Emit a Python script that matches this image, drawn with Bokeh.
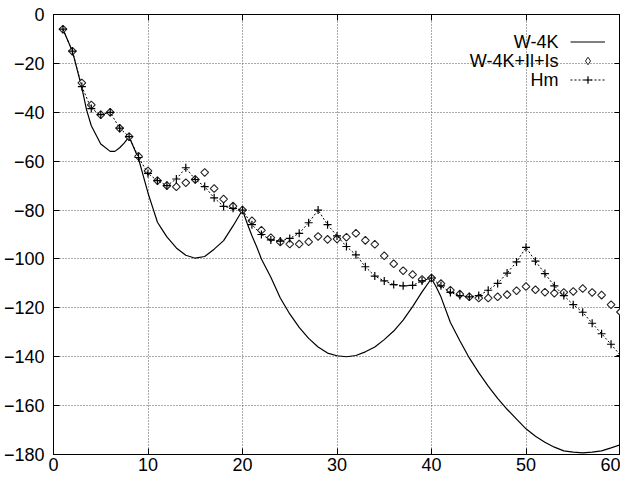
from bokeh.plotting import figure
from bokeh.models import (LinearAxis, Range1d, FixedTicker, Legend, LegendItem, Label,
                          CustomJSTickFormatter)
from bokeh.embed import file_html
from bokeh.resources import INLINE
from bokeh.core.properties import value
import math

# ---------------- data ----------------
W4K_X = [1, 2, 3, 3.5, 4, 5, 6, 6.5, 7, 7.5, 8, 8.5, 9, 9.5, 10, 10.5, 11, 11.5, 12, 13, 14, 15,
         16, 17, 18, 19, 20, 20.5, 21, 21.5, 22, 23, 24, 25, 26, 27, 28, 29, 30, 31, 32, 33,
         34, 35, 36, 37, 38, 39, 40, 40.5, 41, 42, 43, 44, 45, 46, 47, 48, 49, 50, 51, 52,
         53, 54, 55, 56, 57, 58, 59, 60]
W4K_Y = [-6, -15, -30, -39, -45.5, -53, -56, -56, -54.5, -52.5, -50, -54.5, -59, -66, -73, -79,
         -85, -88, -91, -95.5, -98.5, -99.7, -99, -96, -92.5, -86.5, -80, -85.5, -90.5, -95,
         -100, -107.5, -116, -122.5, -128, -132.5, -136, -138.5, -139.6, -140, -139.5, -138,
         -136, -133, -129.5, -125, -119.5, -113.5, -108, -111.5, -115.5, -126, -133.5, -140.5,
         -146.5, -152, -157, -161.5, -165.5, -169.5, -172.5, -175, -177, -178.5, -179, -179.3,
         -179, -178.5, -177.3, -176]

N_X = list(range(1, 61))
IL_Y = [-6, -15, -28, -37, -41, -40, -46.5, -50, -58, -64,
        -68, -70, -70.5, -68.8, -67.5, -64.6, -71.2, -75.5, -78.4, -80,
        -84.4, -88.3, -91.3, -93.1, -93.9, -93.9, -93, -90.8, -92, -91.8,
        -91.1, -89.5, -92.4, -94, -98.7, -102, -104.8, -106.4, -108.4, -107.8,
        -110.1, -112.8, -114.4, -115.5, -116, -116, -115.5, -114.6, -113, -111.3,
        -112.6, -113.6, -114, -113.7, -113.3, -112.1, -113.7, -114.8, -118.7, -121.7]
HM_Y = [-6, -15, -29.5, -38.5, -41, -40, -46.5, -50, -58.5, -65,
        -68, -70, -67.3, -62.7, -67.5, -70.4, -75, -78.5, -79.3, -80,
        -86, -90, -92.2, -92.7, -91.6, -89.5, -85.2, -80, -86, -90.6,
        -94.9, -98.3, -103.2, -107, -109, -110.5, -111, -110.8, -109, -107.8,
        -111, -113.7, -115, -115.5, -115, -112.8, -110, -105.8, -101.2, -95.3,
        -100.9, -106, -111, -115, -118.7, -121.8, -126.3, -130.6, -134.9, -139.5]

X_TICKS = [0, 10, 20, 30, 40, 50, 60]
Y_TICKS = [0, -20, -40, -60, -80, -100, -120, -140, -160, -180]
LABELS = ["W-4K", "W-4K+Il+Is", "Hm"]

FONT = "Liberation Sans"

p = figure(width=620, height=473, output_backend="svg", toolbar_location=None,
           x_range=Range1d(0, 60), y_range=Range1d(-180, 0),
           min_border_left=48, min_border_right=0, min_border_top=14, min_border_bottom=10)
p.background_fill_color = "white"
p.border_fill_color = "white"
p.outline_line_color = "black"
p.outline_line_width = 1

# grids
for g, t in ((p.xgrid, X_TICKS), (p.ygrid, Y_TICKS)):
    g.ticker = FixedTicker(ticks=t)
    g.grid_line_color = "#555555"
    g.grid_line_dash = "1 2"
    g.grid_line_width = 1

def style_axis(ax, ticks):
    ax.ticker = FixedTicker(ticks=ticks)
    ax.major_tick_in = 6
    ax.major_tick_out = 0
    ax.major_tick_line_color = "black"
    ax.minor_tick_line_color = None
    ax.axis_line_color = "black"
    ax.major_label_text_font = FONT
    ax.major_label_text_font_size = "18px"
    ax.major_label_text_color = "black"

style_axis(p.xaxis[0], X_TICKS)
style_axis(p.yaxis[0], Y_TICKS)
p.xaxis[0].major_label_standoff = 3
p.yaxis[0].major_label_standoff = 9

top = LinearAxis(formatter=CustomJSTickFormatter(code="return ''"))
style_axis(top, X_TICKS)
top.major_label_standoff = 0
right = LinearAxis(formatter=CustomJSTickFormatter(code="return ''"))
style_axis(right, Y_TICKS)
right.major_label_standoff = 0
p.add_layout(top, "above")
p.add_layout(right, "right")

# data
r_w4k = p.line(W4K_X, W4K_Y, line_color="black", line_width=1.2)
# small diamonds (used as the legend key); the rotated squares drawn on top cover them
r_il_key = p.scatter(N_X, IL_Y, marker="diamond", size=6,
                     line_color="#222222", fill_color="white", line_width=1)
r_il = p.scatter(N_X, IL_Y, marker="square", angle=math.pi / 4, size=5.5,
                 line_color="#222222", fill_color="white", line_width=1.1)
r_hm_line = p.line(N_X, HM_Y, line_color="black", line_width=1, line_dash="2 2")
r_hm_pts = p.scatter(N_X, HM_Y, marker="cross", size=8, line_color="black", line_width=1.2)

# legend: glyphs on the right, text on the left
legend = Legend(items=[LegendItem(label=value(""), renderers=[r_w4k]),
                       LegendItem(label=value(""), renderers=[r_il_key]),
                       LegendItem(label=value(""), renderers=[r_hm_line, r_hm_pts])],
                location=(517, 365), glyph_width=35, glyph_height=19, label_width=0,
                label_height=19, label_standoff=0, padding=0, margin=0, spacing=0,
                border_line_color=None, background_fill_alpha=0)
p.add_layout(legend)

for i, lab in enumerate(LABELS):
    p.add_layout(Label(x=505, y=412.5 - 19 * i, x_units="screen", y_units="screen", text=lab,
                       text_align="right", text_baseline="middle", text_font=FONT,
                       text_font_size="18px", text_color="black"))

open("out.html", "w").write(file_html(p, INLINE))
